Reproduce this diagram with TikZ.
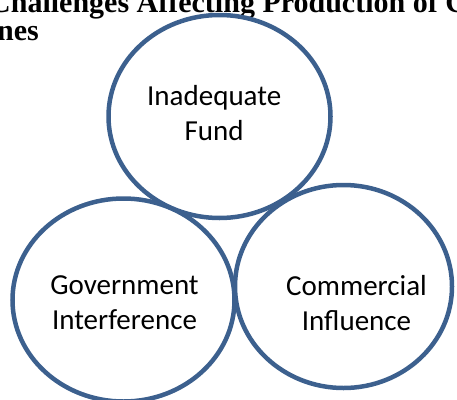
\documentclass[tikz,border=0pt]{standalone}
\usepackage{fontspec}
\setmainfont{Liberation Serif}
\newfontfamily\calibrifont{Carlito}
\usetikzlibrary{shapes.geometric}
\definecolor{ringblue}{RGB}{60,96,142}

\begin{document}
\begin{tikzpicture}[x=1pt,y=-1pt]
    \tikzstyle{every node}+=[inner sep=0pt]
    \tikzstyle{ring}=[draw=ringblue, line width=4.5pt, ellipse, minimum width=222pt, minimum height=203pt]
    \tikzstyle{ringtext}=[align=center, font=\calibrifont\fontsize{29}{35.4}\selectfont]
    \tikzstyle{heading}=[anchor=base west, font=\bfseries\fontsize{30}{34}\selectfont]
    \useasboundingbox (0,0) rectangle (457,399);
    % heading, cut off at the top and the left
    \node[heading] (title1) at (-11,12.5) {Challenges Affecting Production of C};
    \node[heading] (title2) at (-3,40.7) {nes};
    % the three rings
    \node[ring] (fund) at (219.5,116.5) {};
    \node[ring] (govt) at (123.5,300) {};
    \node[ring, minimum width=217pt] (comm) at (343.5,286.5) {};
    \node[ringtext] (fundtext) at (214.2,112.8) {Inadequate\\Fund};
    \node[ringtext] (govttext) at (124.5,302.8) {Government\\Interference};
    \node[ringtext] (commtext) at (356.5,302.8) {Commercial\\Influence};
\end{tikzpicture}
\end{document}
